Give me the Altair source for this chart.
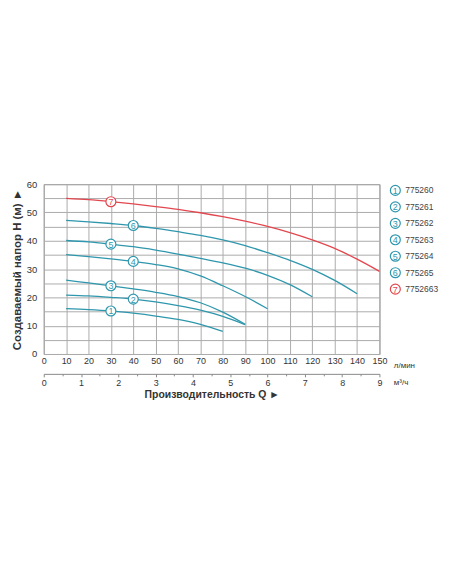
import altair as alt
import pandas as pd

# ---- data ----
models = ["775260", "775261", "775262", "775263", "775264", "775265", "7752663"]
numbers = ["1", "2", "3", "4", "5", "6", "7"]
colors = ["#2f97ad", "#2f97ad", "#2f97ad", "#2f97ad", "#2f97ad", "#2f97ad", "#e2474f"]
q_flow = [10, 20, 30, 40, 50, 60, 70, 80, 90, 100, 110, 120, 130, 140, 150]

h1 = [16.0, 15.7, 15.2, 14.4, 13.4, 12.2, 10.5, 8.0]
h2 = [20.8, 20.5, 20.0, 19.4, 18.4, 17.1, 15.5, 13.3, 10.4]
h3 = [26.1, 25.1, 24.1, 23.0, 21.8, 20.3, 18.1, 14.8, 10.5]
h4 = [35.1, 34.4, 33.6, 32.7, 31.6, 30.1, 27.6, 24.1, 20.3, 16.0]
h5 = [40.1, 39.6, 38.8, 37.9, 36.7, 35.3, 33.8, 32.2, 30.3, 27.8, 24.5, 20.2]
h6 = [47.2, 46.7, 46.1, 45.4, 44.4, 43.2, 41.9, 40.3, 38.3, 35.8, 33.1, 29.9, 26.0, 21.3]
h7 = [55.0, 54.5, 53.8, 53.0, 52.1, 51.1, 49.9, 48.5, 46.9, 45.1, 42.9, 40.3, 37.3, 33.5, 29.2]
heads = [h1, h2, h3, h4, h5, h6, h7]

label_q = [30, 40, 30, 40, 30, 40, 30]

x_ticks = [0, 10, 20, 30, 40, 50, 60, 70, 80, 90, 100, 110, 120, 130, 140, 150]
y_ticks = [0, 5, 10, 15, 20, 25, 30, 35, 40, 45, 50, 55, 60]
m3_ticks = [0, 1, 2, 3, 4, 5, 6, 7, 8, 9]
m3_minor = [0.5, 1.5, 2.5, 3.5, 4.5, 5.5, 6.5, 7.5, 8.5]

# ---- tables ----
rows = []
for m, n, hs in zip(models, numbers, heads):
    for i, h in enumerate(hs):
        rows.append({"model": m, "num": n, "q": q_flow[i], "h": h})
curves = pd.DataFrame(rows)

lab_rows = []
for m, n, hs, lq in zip(models, numbers, heads, label_q):
    lab_rows.append({"model": m, "num": n, "q": lq, "h": hs[q_flow.index(lq)]})
labels = pd.DataFrame(lab_rows)

legend_df = pd.DataFrame({"model": models, "num": numbers, "row": list(range(len(models)))})

FONT = "Liberation Sans"
GRID = "#ababab"
TXT = "#333333"

color = alt.Color("model:N", scale=alt.Scale(domain=models, range=colors), legend=None)

x_enc = alt.X(
    "q:Q",
    scale=alt.Scale(domain=[0, 150], nice=False, zero=False),
    axis=alt.Axis(
        values=x_ticks, format="d", grid=True, gridColor=GRID, ticks=False, domain=False,
        labelOverlap=False, labelFlush=False,
        labelPadding=3, labelFontSize=9, labelColor=TXT,
        title="л/мин", titleX=352, titleY=12, titleAlign="left", titleBaseline="middle",
        titleFontWeight="normal", titleFontSize=8, titleColor=TXT,
    ),
)
y_enc = alt.Y(
    "h:Q",
    scale=alt.Scale(domain=[0, 60], nice=False),
    axis=alt.Axis(
        values=y_ticks, labelExpr="datum.value % 10 == 0 ? datum.label : ''",
        grid=True, gridColor=GRID, ticks=False, domain=False,
        labelOverlap=False, labelFlush=False,
        labelPadding=7, labelFontSize=9.5, labelColor=TXT,
        title="Создаваемый напор H (м) ►", titleAngle=270, titleX=-26, titleY=85.5,
        titleAlign="center", titleBaseline="middle", titleFontSize=11.5,
        titleFontWeight="bold", titleColor=TXT,
    ),
)

lines = alt.Chart(curves).mark_line(interpolate="monotone", strokeWidth=1.3).encode(
    x=x_enc, y=y_enc, color=color, detail="model:N"
)
circles = alt.Chart(labels).mark_point(
    shape="circle", size=100, filled=False, fill="white", fillOpacity=1, opacity=1, strokeWidth=1.2
).encode(x=x_enc, y=y_enc, color=color)
nums = alt.Chart(labels).mark_text(fontSize=9, align="center", baseline="middle", dy=0.5).encode(
    x=x_enc, y=y_enc, text="num:N", color=color
)
main = alt.layer(lines, circles, nums)

m3_df = pd.DataFrame({"m3": m3_ticks})
axis_m3 = alt.Chart(m3_df).mark_point(opacity=0).encode(
    x=alt.X(
        "m3:Q",
        scale=alt.Scale(domain=[0, 9], nice=False, zero=False),
        axis=alt.Axis(
            values=m3_ticks, orient="bottom", offset=20, grid=False,
            labelOverlap=False, labelFlush=False,
            domain=True, domainColor="#888888", ticks=True, tickSize=3, tickColor="#888888",
            labelPadding=2, labelFontSize=9, labelColor=TXT,
            title="м³/ч", titleX=352, titleY=9, titleAlign="left", titleBaseline="middle",
            titleFontWeight="normal", titleFontSize=8, titleColor=TXT,
        ),
    )
)
minor_df = pd.DataFrame({"m3": m3_minor})
axis_minor = alt.Chart(minor_df).mark_point(opacity=0).encode(
    x=alt.X(
        "m3:Q",
        scale=alt.Scale(domain=[0, 9], nice=False, zero=False),
        axis=alt.Axis(
            values=m3_minor, orient="bottom", offset=20, grid=False, domain=False,
            ticks=True, tickSize=2, tickColor="#888888", labels=False,
            title="Производительность Q ►", titleX=169, titleY=21, titleAlign="center",
            titleBaseline="middle", titleFontWeight="bold", titleFontSize=10.5, titleColor=TXT,
        ),
    )
)

plot = (
    alt.layer(main, axis_m3, axis_minor)
    .resolve_scale(x="independent")
    .properties(width=338, height=171, view=alt.ViewBackground(stroke="#8c8c8c", strokeWidth=1))
)

# ---- legend as its own small view ----
leg_y = alt.Y("row:Q", scale=alt.Scale(domain=[-0.38, 9.94], reverse=True, nice=False, zero=False), axis=None)
leg_circles = alt.Chart(legend_df).mark_point(
    shape="circle", size=100, filled=False, fill="white", fillOpacity=1, opacity=1, strokeWidth=1.2
).encode(x=alt.value(6), y=leg_y, color=color)
leg_nums = alt.Chart(legend_df).mark_text(fontSize=9, align="center", baseline="middle", dy=0.5).encode(
    x=alt.value(6), y=leg_y, text="num:N", color=color
)
leg_codes = alt.Chart(legend_df).mark_text(fontSize=8.5, align="left", baseline="middle", color="#444444").encode(
    x=alt.value(16), y=leg_y, text="model:N"
)
legend = alt.layer(leg_circles, leg_nums, leg_codes).properties(
    width=50, height=171, view=alt.ViewBackground(strokeOpacity=0)
)

chart = (
    alt.hconcat(plot, legend, spacing=10, bounds="flush")
    .properties(padding={"left": 3, "top": 170, "right": 5, "bottom": 5})
    .configure(font=FONT)
    .configure_view(stroke="#8c8c8c")
)

chart.save("out.html", embed_options={"renderer": "svg", "actions": False})
